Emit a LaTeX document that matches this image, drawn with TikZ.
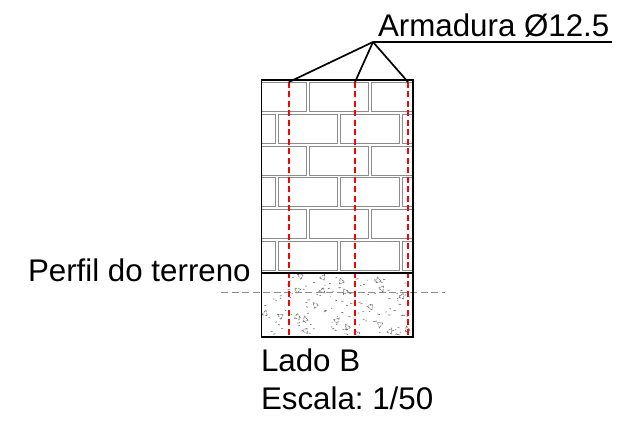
\documentclass[tikz,border=0pt]{standalone}
\usepackage{fontspec}
\setmainfont{Liberation Sans}
\frenchspacing
\tikzset{
  lbl/.style={inner sep=0pt,outer sep=0pt,anchor=base west,text=black,font=\fontsize{31.3}{31.3}\selectfont},
  wall/.style={draw=black,line width=1.7pt},
  leader/.style={draw=black,line width=1.7pt},
  brick/.style={draw=black!45,line width=1pt},
  rebar/.style={draw=red,line width=1.7pt,dash pattern=on 6pt off 3.5pt},
  grade/.style={draw=black!45,line width=0.8pt,dash pattern=on 7pt off 3.5pt},
  speck/.style={draw=black!60,line width=0.6pt},
  tri/.style={draw=black!55,line width=0.6pt,dash pattern=on 2pt off 1pt}
}
\begin{document}
\begin{tikzpicture}[x=1pt,y=-1pt]
\useasboundingbox (0,0) rectangle (635,427);
\fill[white] (0,0) rectangle (635,427);
% bricks
\foreach \t in {82.7,146.1,209.5}{
  \draw[brick] (261.5,\t) rectangle (306.7,\t+29);
  \draw[brick] (309.3,\t) rectangle (368.3,\t+29);
  \draw[brick] (371,\t) rectangle (413,\t+29);
}
\foreach \t in {114.4,177.8,241.2}{
  \draw[brick] (261.5,\t) rectangle (275.7,\t+29);
  \draw[brick] (278.4,\t) rectangle (337.7,\t+29);
  \draw[brick] (340.4,\t) rectangle (399.7,\t+29);
  \draw[brick] (402.4,\t) rectangle (413,\t+29);
}
% concrete speckle
\pgfmathsetseed{4217}
\foreach \i in {1,...,120}{
  \pgfmathsetmacro{\px}{264+rnd*146}
  \pgfmathsetmacro{\py}{276+rnd*59}
  \pgfmathsetmacro{\dx}{0.8+rnd*1.6}
  \pgfmathsetmacro{\dy}{rnd*1.4-0.7}
  \draw[speck] (\px,\py) -- ++(\dx,\dy);
}
\foreach \px/\py/\r in {341/281/20,323/277/-30,300/276/60,378/280/10,382/289/200,298/290/-70,322/291/100,345/292/150,402/296/-20,315/305/40,370/307/80,265/313/-15,280/316/60,297/317/120,305/319/10,337/320/-50,347/327/30,390/331/-25,305/331/90,380/325/170,357/334/70,407/329/15}{
  \draw[tri,rotate around={\r:(\px,\py)}] (\px-2.5,\py+2.5) -- (\px,\py-3) -- (\px+3,\py+2) -- cycle;
}
% ground reference
\coordinate (gl) at (221,292);
\coordinate (gr) at (445,292);
\draw[grade] (gl) -- (gr);
% rebar
\coordinate (at) at (289,82);
\coordinate (ab) at (289,338);
\coordinate (bt) at (355,82);
\coordinate (bb) at (355,338);
\coordinate (ct) at (408,82);
\coordinate (cb) at (408,338);
\draw[rebar] (at) -- (ab);
\draw[rebar] (bt) -- (bb);
\draw[rebar] (ct) -- (cb);
% wall outline
\draw[wall] (261.5,80) rectangle (413,337);
\coordinate (pl) at (261.5,273);
\coordinate (pr) at (413,273);
\draw[wall] (pl) -- (pr);
% leaders
\coordinate (hub) at (373,42);
\coordinate (hubr) at (612,42);
\draw[leader] (hub) -- (hubr);
\draw[leader] (hub) -- (at);
\draw[leader] (hub) -- (bt);
\draw[leader] (hub) -- (ct);
% labels
\node[lbl] (arm) at (378,37) {Armadura Ø12.5};
\node[lbl] (per) at (28,282) {Perfil do terreno};
\node[lbl] (lado) at (261,371.5) {Lado B};
\node[lbl] (esc) at (261,410) {Escala: 1/50};
\end{tikzpicture}
\end{document}
